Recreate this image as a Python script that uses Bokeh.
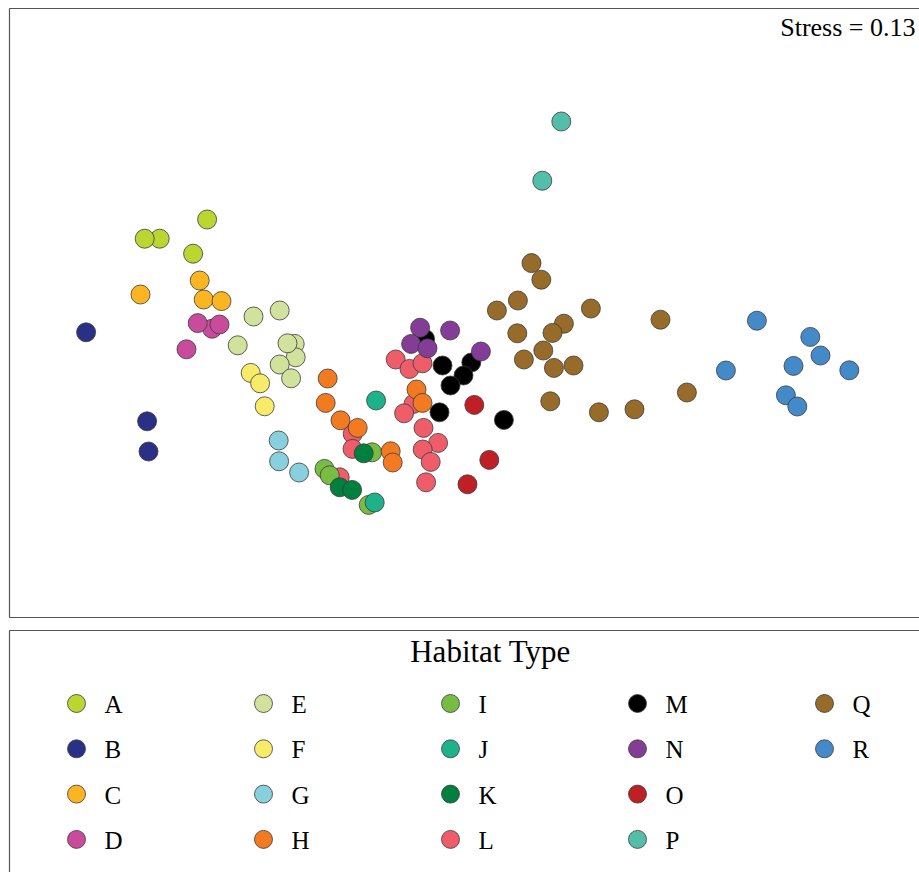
from bokeh.plotting import figure
from bokeh.models import Range1d, ColumnDataSource
from bokeh.layouts import column
from bokeh.core.properties import value
from bokeh.embed import file_html
from bokeh.resources import INLINE

# ---- data -------------------------------------------------------------
habitats = ["A", "B", "C", "D", "E", "F", "G", "H", "I",
            "J", "K", "L", "M", "N", "O", "P", "Q", "R"]
habitat_colors = ["#BBD531", "#2B3087", "#FBB521", "#C94B9B", "#D0E29C",
                  "#F7EC6A", "#88D0DE", "#F27A21", "#77BD44", "#1EB28A",
                  "#007F3F", "#EF5C6A", "#000000", "#833D96", "#BF2025",
                  "#54BFA8", "#976B29", "#448AC9"]
stress = 0.13

# NMDS site scores, listed in plotting order (later sites sit on top)
site_habitat = (["L"] * 13 + ["I"] * 4 + ["M"] * 7 + ["A"] * 4 + ["B"] * 3 +
                ["C"] * 4 + ["D"] * 4 + ["E"] * 8 + ["F"] * 3 + ["G"] * 3 +
                ["H"] * 8 + ["J"] * 2 + ["K"] * 3 + ["N"] * 5 + ["O"] * 3 +
                ["P"] * 2 + ["Q"] * 17 + ["R"] * 8)

nmds1 = [
    -0.539, -0.540, -0.604, -0.324, -0.255, -0.190, -0.235, -0.282, -0.185, -0.112, -0.189, -0.149, -0.172,  # L
    -0.442, -0.680, -0.654, -0.459,                                  # I
    -0.177, -0.090, 0.054, 0.015, -0.050, -0.105, 0.217,             # M
    -1.504, -1.579, -1.267, -1.337,                                  # A
    -1.872, -1.567, -1.560,                                          # B
    -1.304, -1.600, -1.284, -1.195,                                  # C
    -1.242, -1.314, -1.205, -1.370,                                  # D
    -1.035, -0.904, -1.114, -0.829, -0.824, -0.865, -0.904, -0.847,  # E
    -1.049, -1.002, -0.979,                                          # F
    -0.909, -0.907, -0.807,                                          # G
    -0.664, -0.674, -0.600, -0.514, -0.349, -0.339, -0.220, -0.190,  # H
    -0.422, -0.429,                                                  # J
    -0.484, -0.604, -0.542,                                          # K
    -0.202, -0.052, -0.247, -0.165, 0.102,                           # N
    0.069, 0.144, 0.035,                                             # O
    0.504, 0.409,                                                    # P
    0.355, 0.404, 0.287, 0.182, 0.652, 0.517, 0.460, 0.284, 0.414,
    0.317, 0.467, 0.565, 1.000, 0.449, 0.692, 0.870, 1.132,          # Q
    1.482, 1.749, 1.800, 1.665, 1.327, 1.944, 1.627, 1.684,          # R
]

nmds2 = [
    -0.517, -0.592, -0.734, -0.145, -0.192, -0.164, -0.367, -0.414, -0.487, -0.562, -0.595, -0.657, -0.759,  # L
    -0.609, -0.692, -0.724, -0.872,                                  # I
    -0.042, -0.175, -0.160, -0.225, -0.275, -0.409, -0.447,          # M
    0.459, 0.459, 0.555, 0.384,                                      # A
    -0.009, -0.454, -0.605,                                          # B
    0.250, 0.180, 0.155, 0.147,                                      # C
    0.009, 0.037, 0.030, -0.094,                                     # D
    0.070, 0.100, -0.074, -0.067, -0.134, -0.064, -0.170, -0.239,    # E
    -0.212, -0.264, -0.379,                                          # F
    -0.550, -0.654, -0.710,                                          # G
    -0.240, -0.362, -0.449, -0.487, -0.604, -0.660, -0.295, -0.362,  # H
    -0.350, -0.860,                                                  # J
    -0.614, -0.784, -0.797,                                          # K
    0.014, 0.000, -0.067, -0.089, -0.105,                            # N
    -0.372, -0.647, -0.769,                                          # O
    1.045, 0.749,                                                    # P
    0.337, 0.254, 0.150, 0.100, 0.110, 0.034, -0.012, -0.014, -0.100,
    -0.145, -0.187, -0.175, 0.054, -0.354, -0.409, -0.394, -0.310,   # Q
    0.049, -0.032, -0.125, -0.177, -0.200, -0.199, -0.324, -0.380,   # R
]

# ---- styling ------------------------------------------------------------
SERIF = "Liberation Serif"
EDGE = "#3a3a3a"
FRAME = "#555555"
W = 919

color_of = dict(zip(habitats, habitat_colors))

# ---- ordination panel -----------------------------------------------------
x0, x1 = -2.300, 2.295
y0, y1 = -1.475, 1.650
p = figure(width=W, height=625, x_range=Range1d(x0, x1), y_range=Range1d(y0, y1),
           output_backend="svg", toolbar_location=None,
           x_axis_location=None, y_axis_location=None, min_border=0)
p.grid.visible = False
p.outline_line_color = None
p.background_fill_color = "white"

# panel border (open on the right, as it runs off the page)
box_left, box_top, box_bottom = -2.255, 1.610, -1.435
p.line([x1 + 1, box_left, box_left, x1 + 1], [box_top, box_top, box_bottom, box_bottom],
       line_color=FRAME, line_width=1.2)

src = ColumnDataSource(dict(x=nmds1, y=nmds2, habitat=site_habitat,
                            color=[color_of[h] for h in site_habitat]))
p.scatter("x", "y", source=src, size=19, fill_color="color",
          line_color=EDGE, line_width=0.8)

p.text(x=[2.275], y=[1.515], text=[f"Stress = {stress:.2f}"],
       text_align="right", text_baseline="middle",
       text_font=value(SERIF), text_font_size="26px", text_color="black")

# ---- legend panel -----------------------------------------------------------
LH = 247
leg = figure(width=W, height=LH, x_range=Range1d(0, W), y_range=Range1d(LH, 0),
             output_backend="svg", toolbar_location=None,
             x_axis_location=None, y_axis_location=None, min_border=0)
leg.grid.visible = False
leg.outline_line_color = None

leg.line([W + 20, 9, 9], [5, 5, LH + 20], line_color=FRAME, line_width=1.2)

leg.text(x=[490], y=[26], text=["Habitat Type"], text_align="center",
         text_baseline="middle", text_font=value(SERIF),
         text_font_size="31px", text_color="black")

n_rows = 4
key_x = [76 + (i // n_rows) * 187 for i in range(len(habitats))]
key_y = [78 + (i % n_rows) * 45.3 for i in range(len(habitats))]
leg.scatter(key_x, key_y, size=18, fill_color=habitat_colors,
            line_color=EDGE, line_width=0.8)
leg.text(x=[kx + 28 for kx in key_x], y=[ky + 1 for ky in key_y], text=habitats,
         text_align="left", text_baseline="middle", text_font=value(SERIF),
         text_font_size="25px", text_color="black")

layout = column(p, leg, spacing=0)
open("out.html", "w").write(file_html(layout, INLINE))
